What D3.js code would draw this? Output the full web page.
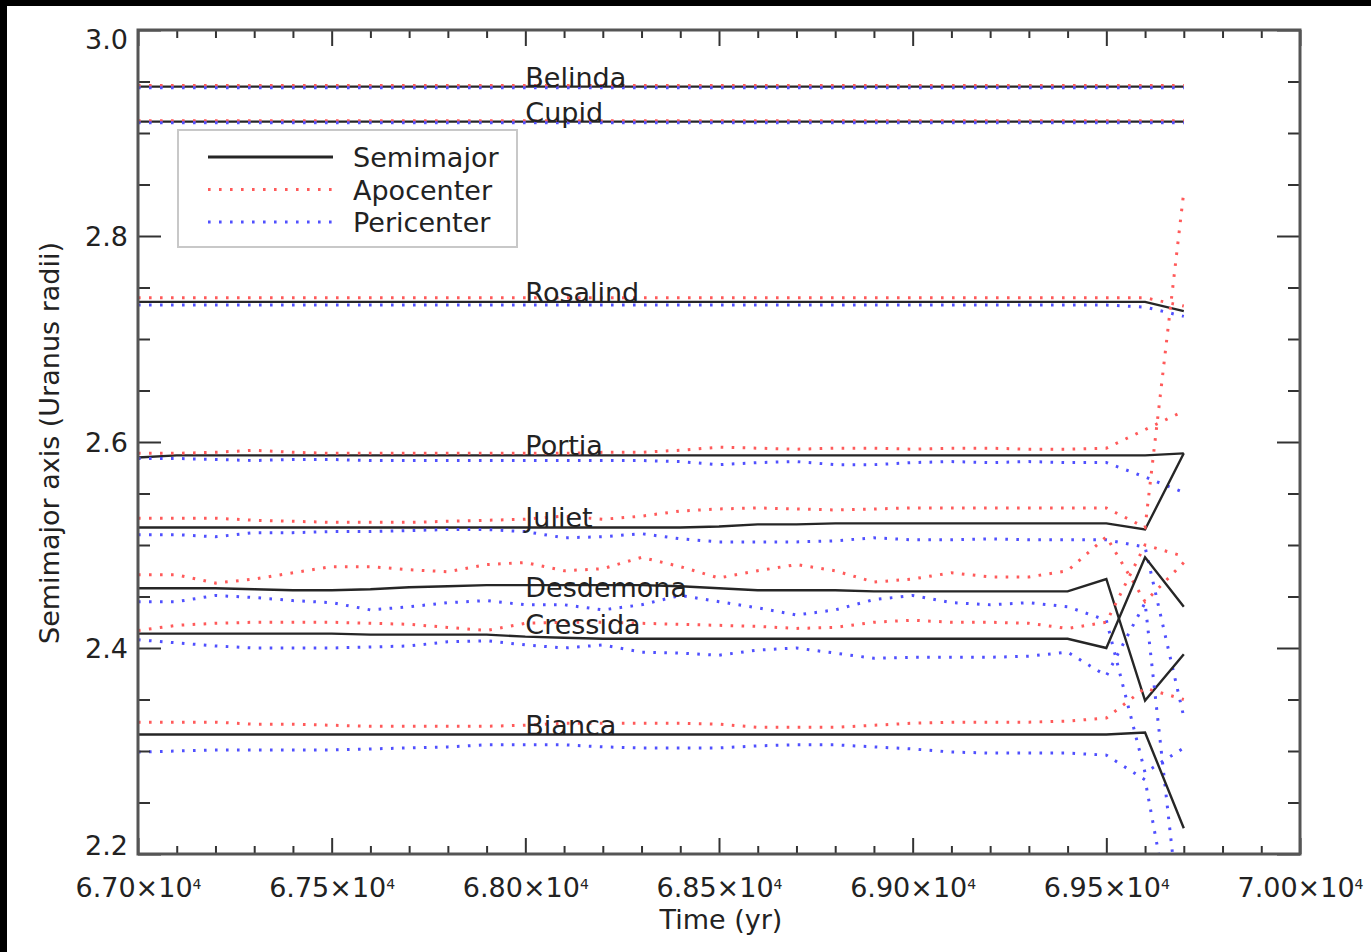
<!DOCTYPE html>
<html>
<head>
<meta charset="utf-8">
<script src="https://cdn.jsdelivr.net/npm/d3@7"></script>
<style>
body { margin: 0; background: #fff; }
text { font-family: "DejaVu Sans", sans-serif; fill: #222; }
</style>
</head>
<body>
<svg id="chart" width="1371" height="952"></svg>
<script>
// time samples (yr)
var times = [67000, 67100, 67200, 67300, 67400, 67500, 67600, 67700, 67800, 67900,
	68000, 68100, 68200, 68300, 68400, 68500, 68600, 68700, 68800, 68900,
	69000, 69100, 69200, 69300, 69400, 69500, 69600, 69700];

var moonNames = ["Belinda", "Cupid", "Rosalind", "Portia", "Juliet", "Desdemona", "Cressida", "Bianca"];
var labelTime = 68000;
var labelValues = [2.945, 2.911, 2.736, 2.587, 2.517, 2.450, 2.414, 2.316];

var xTickLabels = [67000, 67500, 68000, 68500, 69000, 69500, 70000];
var yTickLabels = [2.2, 2.4, 2.6, 2.8, 3.0];
var legendNames = ["Semimajor", "Apocenter", "Pericenter"];

// semimajor axis, one row per moon (same order as moonNames)
var semimajor = [
	[2.945, 2.945, 2.945, 2.945, 2.945, 2.945, 2.945, 2.945, 2.945, 2.945, 2.945, 2.945, 2.945, 2.945, 2.945, 2.945, 2.945, 2.945, 2.945, 2.945, 2.945, 2.945, 2.945, 2.945, 2.945, 2.945, 2.945, 2.945],
	[2.911, 2.911, 2.911, 2.911, 2.911, 2.911, 2.911, 2.911, 2.911, 2.911, 2.911, 2.911, 2.911, 2.911, 2.911, 2.911, 2.911, 2.911, 2.911, 2.911, 2.911, 2.911, 2.911, 2.911, 2.911, 2.911, 2.911, 2.911],
	[2.736, 2.736, 2.736, 2.736, 2.736, 2.736, 2.736, 2.736, 2.736, 2.736, 2.736, 2.736, 2.736, 2.736, 2.736, 2.736, 2.736, 2.736, 2.736, 2.736, 2.736, 2.736, 2.736, 2.736, 2.736, 2.736, 2.736, 2.727],
	[2.585, 2.587, 2.587, 2.587, 2.587, 2.587, 2.587, 2.587, 2.587, 2.587, 2.587, 2.587, 2.587, 2.587, 2.587, 2.587, 2.587, 2.587, 2.587, 2.587, 2.587, 2.587, 2.587, 2.587, 2.587, 2.587, 2.587, 2.589],
	[2.517, 2.517, 2.517, 2.517, 2.517, 2.517, 2.517, 2.517, 2.517, 2.517, 2.517, 2.517, 2.517, 2.517, 2.517, 2.518, 2.520, 2.520, 2.521, 2.521, 2.521, 2.521, 2.521, 2.521, 2.521, 2.521, 2.515, 2.589],
	[2.458, 2.458, 2.458, 2.457, 2.456, 2.456, 2.457, 2.459, 2.460, 2.461, 2.461, 2.461, 2.461, 2.461, 2.460, 2.458, 2.456, 2.456, 2.456, 2.455, 2.455, 2.455, 2.455, 2.455, 2.455, 2.467, 2.349, 2.394],
	[2.414, 2.414, 2.414, 2.414, 2.414, 2.414, 2.413, 2.413, 2.413, 2.413, 2.411, 2.410, 2.409, 2.409, 2.409, 2.409, 2.409, 2.409, 2.409, 2.409, 2.409, 2.409, 2.409, 2.409, 2.409, 2.400, 2.488, 2.440],
	[2.316, 2.316, 2.316, 2.316, 2.316, 2.316, 2.316, 2.316, 2.316, 2.316, 2.316, 2.316, 2.316, 2.316, 2.316, 2.316, 2.316, 2.316, 2.316, 2.316, 2.316, 2.316, 2.316, 2.316, 2.316, 2.316, 2.318, 2.225]
];

var apocenter = [
	[2.946, 2.946, 2.946, 2.946, 2.946, 2.946, 2.946, 2.946, 2.946, 2.946, 2.946, 2.946, 2.946, 2.946, 2.946, 2.946, 2.946, 2.946, 2.946, 2.946, 2.946, 2.946, 2.946, 2.946, 2.946, 2.946, 2.946, 2.946],
	[2.912, 2.912, 2.912, 2.912, 2.912, 2.912, 2.912, 2.912, 2.912, 2.912, 2.912, 2.912, 2.912, 2.912, 2.912, 2.912, 2.912, 2.912, 2.912, 2.912, 2.912, 2.912, 2.912, 2.912, 2.912, 2.912, 2.912, 2.912],
	[2.740, 2.740, 2.740, 2.740, 2.740, 2.740, 2.740, 2.740, 2.740, 2.740, 2.740, 2.740, 2.740, 2.740, 2.740, 2.740, 2.740, 2.740, 2.740, 2.740, 2.740, 2.740, 2.740, 2.740, 2.740, 2.740, 2.740, 2.732],
	[2.589, 2.589, 2.590, 2.592, 2.590, 2.589, 2.589, 2.589, 2.589, 2.589, 2.589, 2.589, 2.590, 2.590, 2.592, 2.595, 2.594, 2.593, 2.594, 2.594, 2.593, 2.594, 2.594, 2.593, 2.593, 2.594, 2.612, 2.630],
	[2.526, 2.526, 2.526, 2.524, 2.523, 2.522, 2.522, 2.522, 2.523, 2.524, 2.525, 2.528, 2.525, 2.528, 2.533, 2.535, 2.536, 2.535, 2.534, 2.535, 2.536, 2.536, 2.536, 2.536, 2.536, 2.536, 2.517, 2.843],
	[2.471, 2.471, 2.463, 2.467, 2.473, 2.479, 2.479, 2.476, 2.474, 2.481, 2.483, 2.475, 2.477, 2.488, 2.479, 2.468, 2.475, 2.481, 2.475, 2.464, 2.467, 2.473, 2.469, 2.469, 2.475, 2.508, 2.445, 2.483],
	[2.417, 2.422, 2.424, 2.425, 2.425, 2.425, 2.424, 2.423, 2.420, 2.417, 2.424, 2.425, 2.425, 2.424, 2.423, 2.422, 2.421, 2.419, 2.420, 2.425, 2.427, 2.425, 2.425, 2.424, 2.419, 2.425, 2.500, 2.489],
	[2.328, 2.328, 2.328, 2.326, 2.326, 2.325, 2.324, 2.324, 2.324, 2.324, 2.325, 2.327, 2.327, 2.327, 2.327, 2.326, 2.323, 2.323, 2.323, 2.325, 2.327, 2.328, 2.328, 2.328, 2.329, 2.332, 2.361, 2.350]
];

var pericenter = [
	[2.944, 2.944, 2.944, 2.944, 2.944, 2.944, 2.944, 2.944, 2.944, 2.944, 2.944, 2.944, 2.944, 2.944, 2.944, 2.944, 2.944, 2.944, 2.944, 2.944, 2.944, 2.944, 2.944, 2.944, 2.944, 2.944, 2.944, 2.944],
	[2.910, 2.910, 2.910, 2.910, 2.910, 2.910, 2.910, 2.910, 2.910, 2.910, 2.910, 2.910, 2.910, 2.910, 2.910, 2.910, 2.910, 2.910, 2.910, 2.910, 2.910, 2.910, 2.910, 2.910, 2.910, 2.910, 2.910, 2.910],
	[2.733, 2.733, 2.733, 2.733, 2.733, 2.733, 2.733, 2.733, 2.733, 2.733, 2.733, 2.733, 2.733, 2.733, 2.733, 2.733, 2.733, 2.733, 2.733, 2.733, 2.733, 2.733, 2.733, 2.733, 2.733, 2.733, 2.731, 2.722],
	[2.584, 2.584, 2.583, 2.582, 2.583, 2.583, 2.582, 2.582, 2.582, 2.582, 2.582, 2.582, 2.582, 2.582, 2.581, 2.578, 2.580, 2.581, 2.578, 2.578, 2.580, 2.581, 2.580, 2.581, 2.580, 2.580, 2.566, 2.551],
	[2.510, 2.510, 2.508, 2.512, 2.512, 2.513, 2.513, 2.514, 2.515, 2.515, 2.513, 2.507, 2.508, 2.511, 2.506, 2.503, 2.503, 2.503, 2.504, 2.507, 2.505, 2.505, 2.506, 2.505, 2.505, 2.505, 2.498, 2.333],
	[2.445, 2.445, 2.451, 2.449, 2.446, 2.444, 2.437, 2.440, 2.444, 2.446, 2.442, 2.442, 2.437, 2.442, 2.451, 2.445, 2.439, 2.432, 2.437, 2.447, 2.451, 2.444, 2.442, 2.444, 2.440, 2.427, 2.279, 2.303],
	[2.408, 2.405, 2.402, 2.400, 2.400, 2.400, 2.401, 2.402, 2.406, 2.407, 2.403, 2.400, 2.403, 2.396, 2.395, 2.393, 2.398, 2.400, 2.395, 2.390, 2.391, 2.391, 2.391, 2.392, 2.396, 2.373, 2.444, 2.100],
	[2.299, 2.300, 2.301, 2.301, 2.301, 2.301, 2.302, 2.303, 2.304, 2.306, 2.306, 2.306, 2.304, 2.303, 2.303, 2.303, 2.305, 2.306, 2.306, 2.304, 2.302, 2.299, 2.298, 2.298, 2.298, 2.296, 2.272, 2.068]
];

var colorSemi = "#262626";
var colorApo = "#ff5a5a";
var colorPeri = "#5050ff";
var dots = "2.6,8.4";

var width = 1371, height = 952;
var box = {left: 138, top: 30, right: 1300, bottom: 854};

var svg = d3.select("#chart");
svg.append("rect").attr("width", width).attr("height", height).attr("fill", "#fff");
// dark borders of the original scan
svg.append("rect").attr("width", width).attr("height", 6).attr("fill", "#000");
svg.append("rect").attr("width", 7).attr("height", height).attr("fill", "#000");

var x = d3.scaleLinear().domain([67000, 70000]).range([box.left, box.right]);
var y = d3.scaleLinear().domain([2.2, 3.0]).range([box.bottom, box.top]);

svg.append("clipPath").attr("id", "plotclip")
	.append("rect")
	.attr("x", box.left).attr("y", box.top)
	.attr("width", box.right - box.left).attr("height", box.bottom - box.top);

// data lines
var lineFunc = function(values) {
	return d3.line()
		.x(function(d, i) { return x(times[i]); })
		.y(function(d) { return y(d); })(values);
};

var plot = svg.append("g").attr("clip-path", "url(#plotclip)");
moonNames.forEach(function(name, m) {
	plot.append("path")
		.attr("d", lineFunc(semimajor[m]))
		.attr("fill", "none")
		.attr("stroke", colorSemi)
		.attr("stroke-width", 2.4);
	plot.append("path")
		.attr("d", lineFunc(apocenter[m]))
		.attr("fill", "none")
		.attr("stroke", colorApo)
		.attr("stroke-width", 3)
		.attr("stroke-dasharray", dots);
	plot.append("path")
		.attr("d", lineFunc(pericenter[m]))
		.attr("fill", "none")
		.attr("stroke", colorPeri)
		.attr("stroke-width", 3)
		.attr("stroke-dasharray", dots);
});

// moon names
svg.append("g").selectAll("text")
	.data(moonNames)
	.enter().append("text")
	.attr("x", x(labelTime))
	.attr("y", function(d, i) { return y(labelValues[i]); })
	.attr("font-size", 27)
	.text(function(d) { return d; });

// axes: major + minor ticks on all four sides
function styleAxis(g) {
	g.select(".domain").remove();
	g.selectAll(".tick line").attr("stroke", "#333").attr("stroke-width", 2);
	g.selectAll("text").attr("font-size", 27).attr("fill", "#222")
		.attr("font-family", "DejaVu Sans, sans-serif");
}

var xMinor = d3.range(67000, 70001, 100).filter(function(v) { return v % 500 !== 0; });
var yMinor = d3.range(2.2, 3.001, 0.05).filter(function(v) {
	return Math.abs(v * 5 - Math.round(v * 5)) > 1e-6;
});

var xAxis = svg.append("g")
	.attr("transform", "translate(0," + box.bottom + ")")
	.call(d3.axisBottom(x).tickValues(xTickLabels).tickSizeInner(-16).tickSizeOuter(0).tickPadding(24));
styleAxis(xAxis);
xAxis.selectAll("text").each(function(d) {
	var t = d3.select(this);
	t.text(null);
	t.append("tspan").text((d / 1e4).toFixed(2) + "\u00d710");
	t.append("tspan").attr("dy", "-0.55em").attr("font-size", 14).text("4");
});
styleAxis(svg.append("g")
	.attr("transform", "translate(0," + box.bottom + ")")
	.call(d3.axisBottom(x).tickValues(xMinor).tickSizeInner(-8).tickSizeOuter(0).tickFormat("")));
styleAxis(svg.append("g")
	.attr("transform", "translate(0," + box.top + ")")
	.call(d3.axisTop(x).tickValues(xTickLabels).tickSizeInner(-16).tickSizeOuter(0).tickFormat("")));
styleAxis(svg.append("g")
	.attr("transform", "translate(0," + box.top + ")")
	.call(d3.axisTop(x).tickValues(xMinor).tickSizeInner(-8).tickSizeOuter(0).tickFormat("")));

var yAxis = svg.append("g")
	.attr("transform", "translate(" + box.left + ",0)")
	.call(d3.axisLeft(y).tickValues(yTickLabels).tickSizeInner(-23).tickSizeOuter(0)
		.tickPadding(10).tickFormat(d3.format(".1f")));
styleAxis(yAxis);
yAxis.selectAll("text").attr("dy", function(d) {
	if (d >= 2.99) return "0.68em";
	if (d <= 2.21) return "0.0em";
	return "0.34em";
});
styleAxis(svg.append("g")
	.attr("transform", "translate(" + box.left + ",0)")
	.call(d3.axisLeft(y).tickValues(yMinor).tickSizeInner(-12).tickSizeOuter(0).tickFormat("")));
styleAxis(svg.append("g")
	.attr("transform", "translate(" + box.right + ",0)")
	.call(d3.axisRight(y).tickValues(yTickLabels).tickSizeInner(-23).tickSizeOuter(0).tickFormat("")));
styleAxis(svg.append("g")
	.attr("transform", "translate(" + box.right + ",0)")
	.call(d3.axisRight(y).tickValues(yMinor).tickSizeInner(-12).tickSizeOuter(0).tickFormat("")));

// frame
svg.append("rect")
	.attr("x", box.left).attr("y", box.top)
	.attr("width", box.right - box.left).attr("height", box.bottom - box.top)
	.attr("fill", "none")
	.attr("stroke", "#555")
	.attr("stroke-width", 3);

// axis titles
svg.append("text")
	.attr("x", (box.left + box.right) / 2 + 2)
	.attr("y", 929)
	.attr("text-anchor", "middle")
	.attr("font-size", 27)
	.text("Time (yr)");
svg.append("text")
	.attr("transform", "translate(59," + ((box.top + box.bottom) / 2 + 1) + ") rotate(-90)")
	.attr("text-anchor", "middle")
	.attr("font-size", 27)
	.text("Semimajor axis (Uranus radii)");

// legend
var legend = svg.append("g");
legend.append("rect")
	.attr("x", 178).attr("y", 130)
	.attr("width", 339).attr("height", 117)
	.attr("fill", "#fff")
	.attr("stroke", "#c8c8c8")
	.attr("stroke-width", 2);
var legendStyles = [
	{color: colorSemi, dash: null, w: 3},
	{color: colorApo, dash: dots, w: 3},
	{color: colorPeri, dash: dots, w: 3}
];
legendNames.forEach(function(name, i) {
	var ly = 157 + i * 32.5;
	legend.append("line")
		.attr("x1", 208).attr("x2", 333)
		.attr("y1", ly).attr("y2", ly)
		.attr("stroke", legendStyles[i].color)
		.attr("stroke-width", legendStyles[i].w)
		.attr("stroke-dasharray", legendStyles[i].dash);
	legend.append("text")
		.attr("x", 353).attr("y", ly + 10)
		.attr("font-size", 27)
		.text(name);
});
</script>
</body>
</html>
